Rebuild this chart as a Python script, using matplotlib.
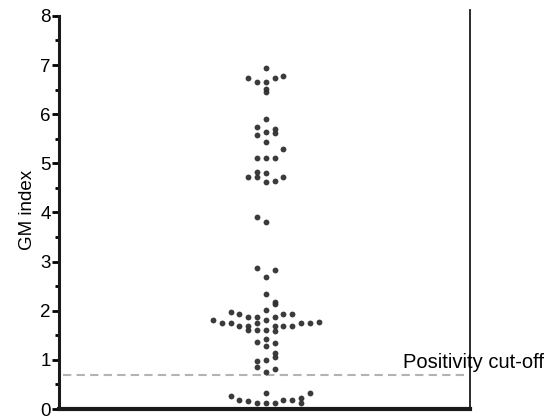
import numpy as np
import matplotlib
matplotlib.use('Agg')
import matplotlib.pyplot as plt

plt.rcParams['font.family'] = ['Liberation Sans', 'DejaVu Sans']

# GM index values, with their horizontal slot (beeswarm offset)
gm_values = [
    6.94, 6.74, 6.66, 6.66, 6.74, 6.78, 6.52, 6.46,
    5.91, 5.74, 5.64, 5.70, 5.62, 5.58, 5.44, 5.30, 5.11, 5.11, 5.11,
    4.72, 4.83, 4.72, 4.81, 4.62, 4.64, 4.72,
    3.91, 3.81,
    2.87, 2.69, 2.83,
    2.34, 2.18, 2.14,
    1.98, 1.94, 1.87, 1.87, 2.02, 1.81, 1.87, 1.94, 1.94,
    1.81, 1.75, 1.75, 1.69, 1.69, 1.61, 1.75, 1.61, 1.61, 1.69, 1.59,
    1.69, 1.69, 1.75, 1.75, 1.77,
    1.36, 1.43, 1.28, 1.34, 1.14, 1.06,
    0.98, 0.86, 1.00, 0.75, 0.81,
    0.26, 0.18, 0.16, 0.12, 0.33, 0.12, 0.12, 0.18, 0.18, 0.22, 0.12, 0.33,
]
gm_slots = [
    0, -2, -1, 0, 1, 2, 0, 0,
    0, -1, 0, 1, 1, -1, 0, 2, -1, 0, 1,
    -2, -1, -1, 0, 0, 1, 2,
    -1, 0,
    -1, 0, 1,
    0, 1, 1,
    -4, -3, -2, -1, 0, 0, 1, 2, 3,
    -6, -5, -4, -3, -2, -2, -1, -1, 0, 1, 1,
    2, 3, 4, 5, 6,
    -1, 0, 0, 1, 1, 1,
    -1, -1, 0, 0, 1,
    -4, -3, -2, -1, 0, 0, 1, 2, 3, 4, 4, 5,
]
cutoff = 0.7
cutoff_label = 'Positivity cut-off'
y_ticks = list(range(0, 9))

fig = plt.figure(figsize=(5.52, 4.16), dpi=100)
ax = fig.add_axes([59 / 552, 7 / 416, 411 / 552, 399 / 416])

ax.plot(gm_slots, gm_values, 'o', color='#303030', markersize=4.2,
        markeredgewidth=0, alpha=0.95, zorder=3, clip_on=False)

# positivity cut-off
ax.axhline(cutoff, xmin=0.01, xmax=0.995, color='#b3b3b3', lw=1.5,
           linestyle=(0, (4, 2.5)), zorder=1)
ax.text(15.6, 0.94, cutoff_label, fontsize=14.5, va='center', ha='left',
        clip_on=False, zorder=4)

ax.set_xlim(-23.5, 23.2)
ax.set_ylim(0, 8.12)
ax.set_yticks(y_ticks)
ax.set_yticks(np.arange(0.5, 8, 1.0), minor=True)
ax.set_xticks([])
ax.tick_params(axis='y', which='major', direction='out', length=5, width=2,
               labelsize=13.5, pad=1)
ax.tick_params(axis='y', which='minor', direction='out', length=3, width=2)
ax.set_ylabel('GM index', fontsize=13.5, labelpad=3)

ax.spines['top'].set_visible(False)
ax.spines['left'].set_bounds(0, 8)
ax.spines['left'].set_linewidth(2.2)
ax.spines['bottom'].set_linewidth(3)
ax.spines['right'].set_linewidth(1.3)
for s in ax.spines.values():
    s.set_color('#1a1a1a')

fig.savefig('out.png', dpi=100)
